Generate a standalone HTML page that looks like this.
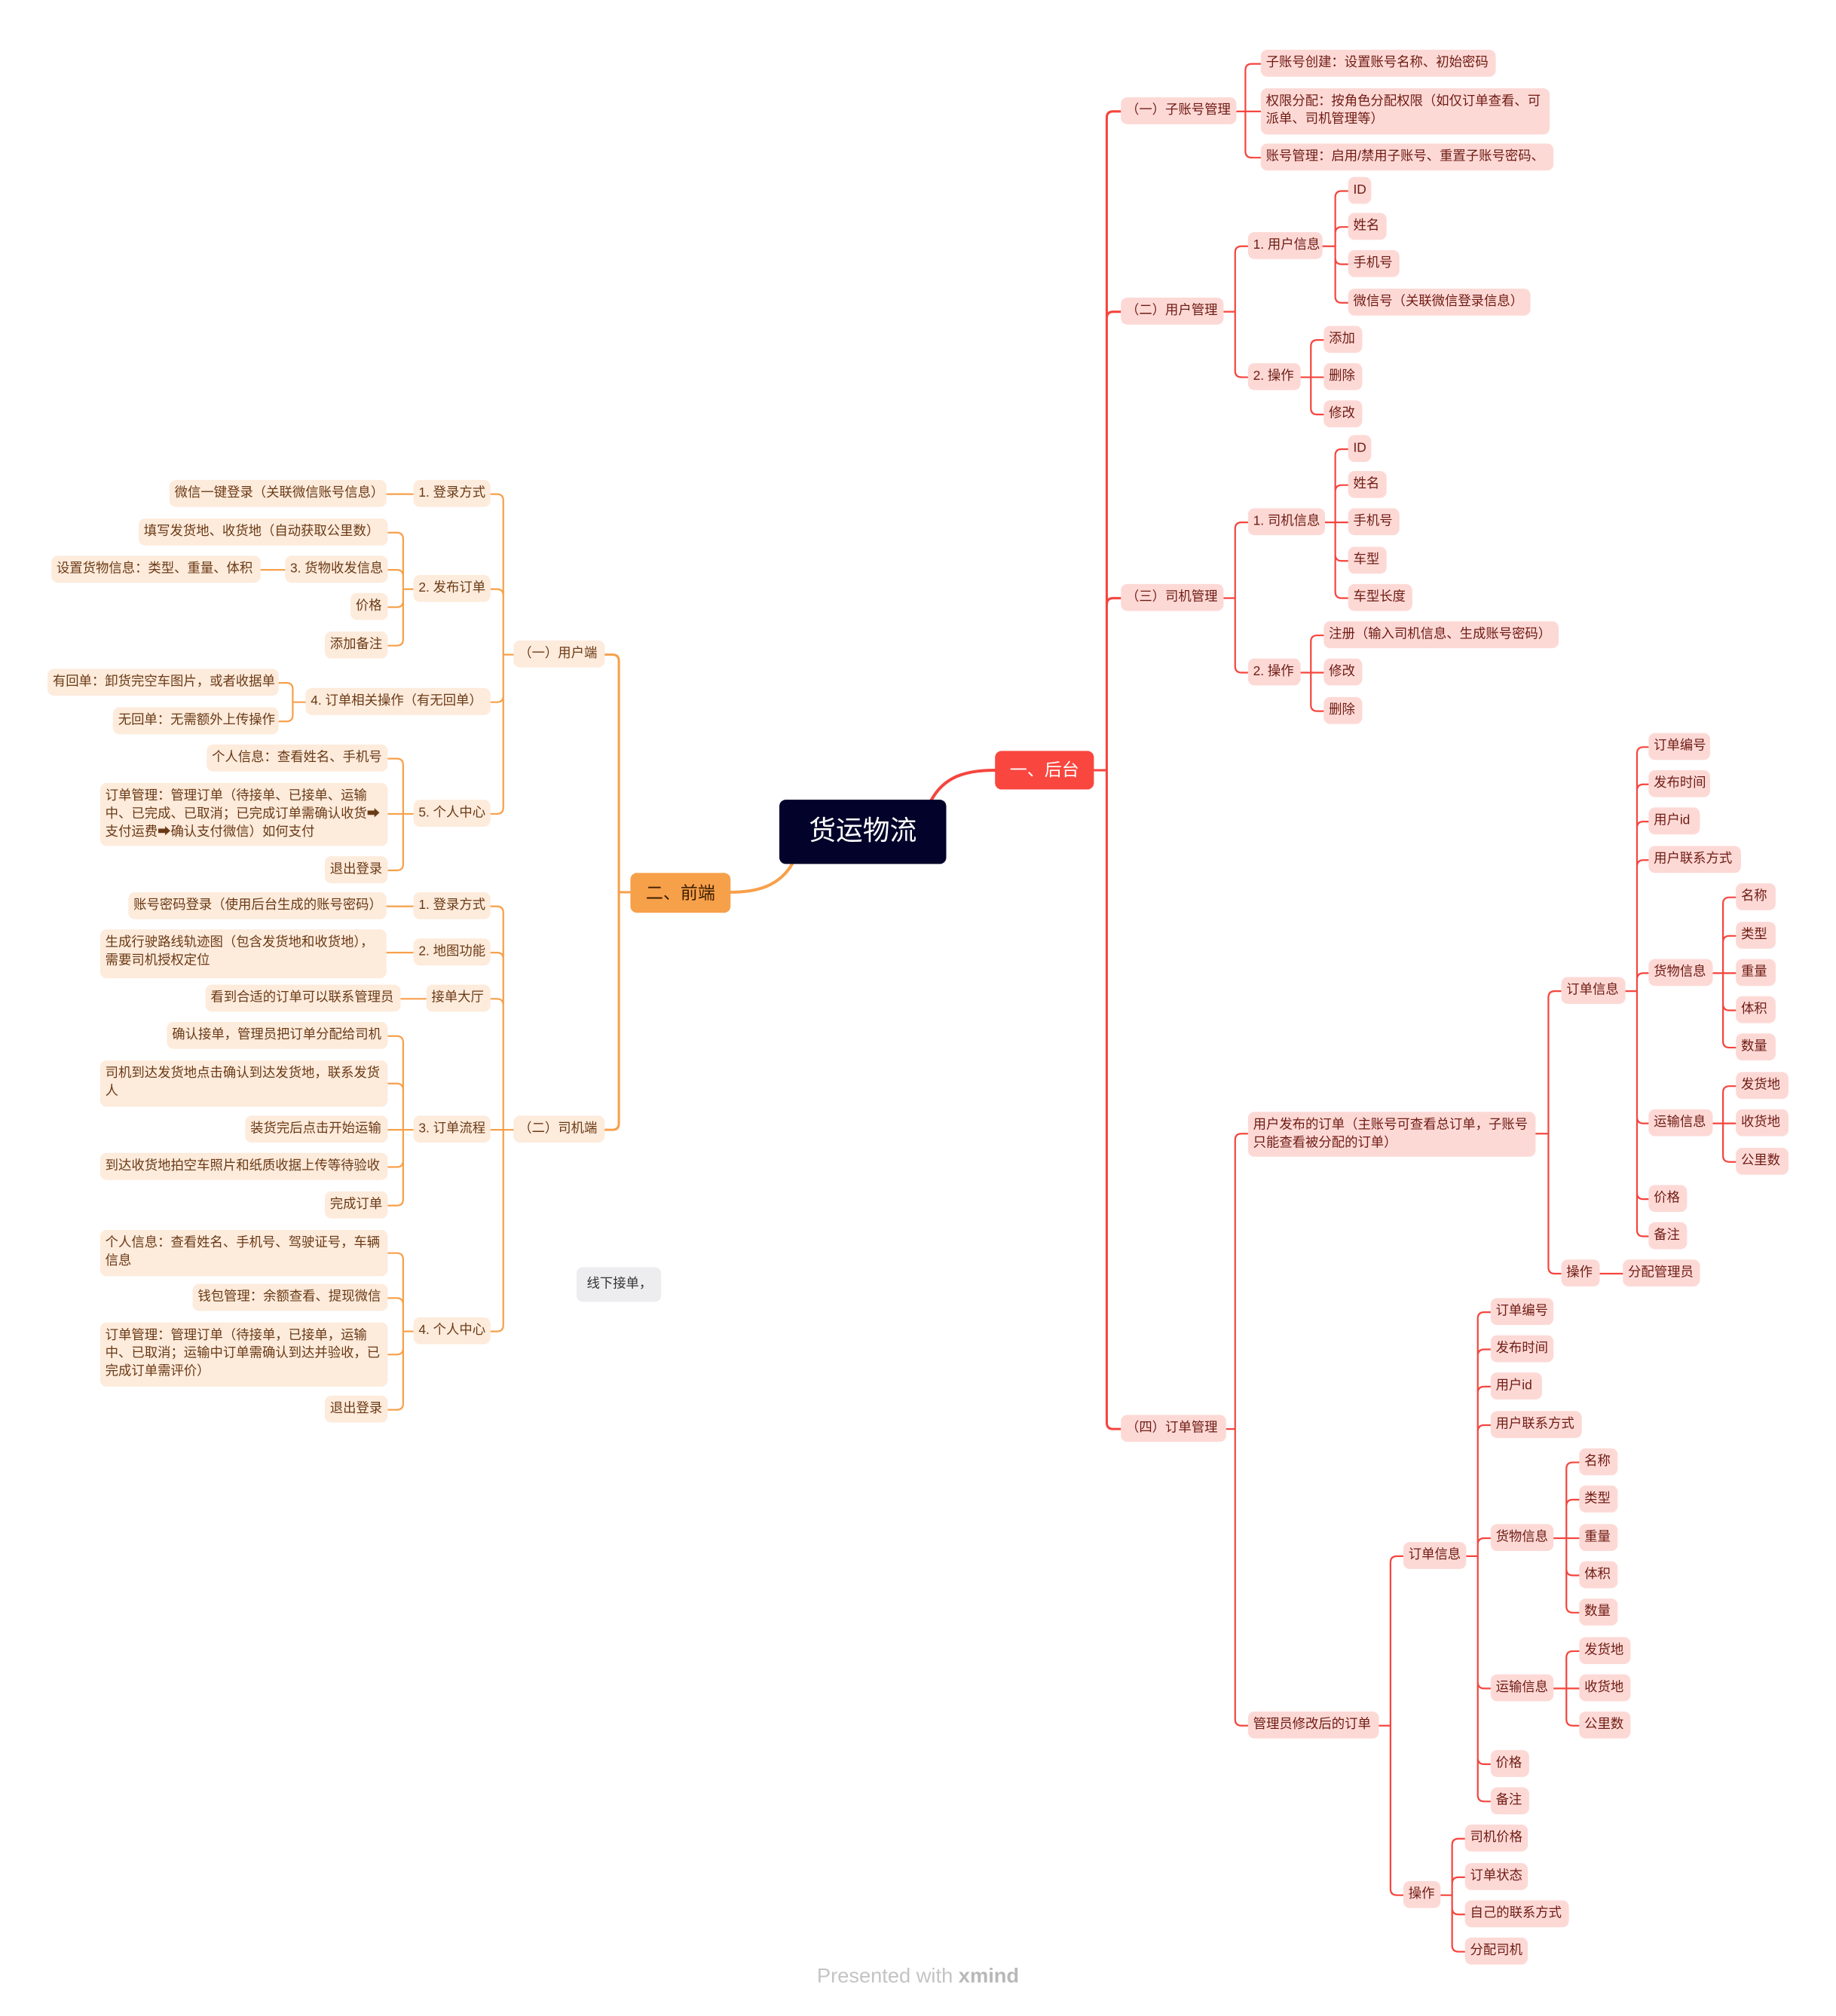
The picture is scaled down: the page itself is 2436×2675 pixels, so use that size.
<!DOCTYPE html>
<html><head><meta charset="utf-8">
<style>
html,body{margin:0;padding:0;background:#fff;}
body{width:2436px;height:2672px;overflow:hidden;position:relative;}
#c{position:absolute;left:0;top:3px;width:1430px;height:1568px;transform:scale(1.7035,1.704);transform-origin:0 0;font-family:"Liberation Sans","Noto Sans CJK SC",sans-serif;}
svg{position:absolute;left:0;top:0;}
.n{position:absolute;height:21px;line-height:21px;font-size:10.2px;padding:0 4px;box-sizing:border-box;border-radius:5px;white-space:nowrap;}
.r{background:#fdd9d6;color:#6e1b13;}
.l{background:#fdebdc;color:#6a3a15;}
.m{height:auto;line-height:14px;padding:4px 4px;white-space:nowrap;}
</style></head><body>
<div id="c">
<svg width="1430" height="1568" viewBox="0 0 1430 1568" fill="none" stroke-linecap="round">
<path d="M725 622 C735 603 752 598 775 598" stroke="#f5453e" stroke-width="2.4"/>
<path d="M617 671 C607 688 590 693 569 693" stroke="#f7a04a" stroke-width="2.4"/>
<g stroke="#f5453e" stroke-width="1.8">
<path d="M852 598H862 M862 598V90Q862 85 867 85H873 M862 598V246Q862 241 867 241H873 M862 598V469Q862 464 867 464H873 M862 598V1106Q862 1111 867 1111H873"/>
</g>
<g stroke="#f5453e" stroke-width="1.3">
<path d="M963 85H970 M970 85V53Q970 48 975 48H982 M970 85H982 M970 85V116Q970 121 975 121H982"/>
<path d="M953 241H962 M962 241V195Q962 190 967 190H972 M962 241V287Q962 292 967 292H972"/>
<path d="M1030 190H1040 M1040 190V152Q1040 147 1045 147H1050 M1040 190V180Q1040 175 1045 175H1050 M1040 190V199Q1040 204 1045 204H1050 M1040 190V229Q1040 234 1045 234H1050"/>
<path d="M1013 292H1021 M1021 292V268Q1021 263 1026 263H1031 M1021 292H1031 M1021 292V316Q1021 321 1026 321H1031"/>
<path d="M953 464H962 M962 464V410Q962 405 967 405H972 M962 464V517Q962 522 967 522H972"/>
<path d="M1032 405H1040 M1040 405V353Q1040 348 1045 348H1050 M1040 405V381Q1040 376 1045 376H1050 M1040 405H1050 M1040 405V430Q1040 435 1045 435H1050 M1040 405V459Q1040 464 1045 464H1050"/>
<path d="M1013 522H1021 M1021 522V498Q1021 493 1026 493H1031 M1021 522H1031 M1021 522V547Q1021 552 1026 552H1031"/>
<path d="M955 1111H962 M962 1111V886Q962 881 967 881H972 M962 1111V1337Q962 1342 967 1342H972"/>
<path d="M1196 881H1206 M1206 881V775Q1206 770 1211 770H1216 M1206 881V985Q1206 990 1211 990H1216"/>
<path d="M1266 770H1275 M1275 770V585Q1275 580 1280 580H1284 M1275 770V614Q1275 609 1280 609H1284 M1275 770V643Q1275 638 1280 638H1284 M1275 770V673Q1275 668 1280 668H1284 M1275 770V761Q1275 756 1280 756H1284 M1275 770V868Q1275 873 1280 873H1284 M1275 770V927Q1275 932 1280 932H1284 M1275 770V956Q1275 961 1280 961H1284"/>
<path d="M1334 756H1342 M1342 756V702Q1342 697 1347 697H1352 M1342 756V732Q1342 727 1347 727H1352 M1342 756H1352 M1342 756V780Q1342 785 1347 785H1352 M1342 756V809Q1342 814 1347 814H1352"/>
<path d="M1334 873H1342 M1342 873V849Q1342 844 1347 844H1352 M1342 873H1352 M1342 873V898Q1342 903 1347 903H1352"/>
<path d="M1246 990H1264"/>
<path d="M1074 1342H1083 M1083 1342V1215Q1083 1210 1088 1210H1093 M1083 1342V1469Q1083 1474 1088 1474H1093"/>
<path d="M1142 1210H1151 M1151 1210V1025Q1151 1020 1156 1020H1161 M1151 1210V1054Q1151 1049 1156 1049H1161 M1151 1210V1083Q1151 1078 1156 1078H1161 M1151 1210V1113Q1151 1108 1156 1108H1161 M1151 1210V1201Q1151 1196 1156 1196H1161 M1151 1210V1308Q1151 1313 1156 1313H1161 M1151 1210V1367Q1151 1372 1156 1372H1161 M1151 1210V1396Q1151 1401 1156 1401H1161"/>
<path d="M1210 1196H1220 M1220 1196V1142Q1220 1137 1225 1137H1230 M1220 1196V1171Q1220 1166 1225 1166H1230 M1220 1196H1230 M1220 1196V1220Q1220 1225 1225 1225H1230 M1220 1196V1249Q1220 1254 1225 1254H1230"/>
<path d="M1210 1313H1220 M1220 1313V1289Q1220 1284 1225 1284H1230 M1220 1313H1230 M1220 1313V1337Q1220 1342 1225 1342H1230"/>
<path d="M1122 1474H1131 M1131 1474V1435Q1131 1430 1136 1430H1141 M1131 1474V1465Q1131 1460 1136 1460H1141 M1131 1474V1484Q1131 1489 1136 1489H1141 M1131 1474V1513Q1131 1518 1136 1518H1141"/>
</g>
<g stroke="#f7a04a" stroke-width="1.8">
<path d="M491 693H482 M482 693V513Q482 508 477 508H471 M482 693V873Q482 878 477 878H471"/>
</g>
<g stroke="#f7a04a" stroke-width="1.3">
<path d="M400 508H392 M392 508V388Q392 383 387 383H382 M392 508V462Q392 457 387 457H382 M392 508V540Q392 545 387 545H382 M392 508V627Q392 632 387 632H382"/>
<path d="M322 383H301 M222 442H203"/>
<path d="M322 457H314 M314 457V418Q314 413 309 413H302 M314 457V447Q314 442 309 442H302 M314 457V466Q314 471 309 471H302 M314 457V496Q314 501 309 501H302"/>
<path d="M238 545H228 M228 545V535Q228 530 223 530H217 M228 545V555Q228 560 223 560H217"/>
<path d="M322 632H314 M314 632V594Q314 589 309 589H302 M314 632H302 M314 632V671Q314 676 309 676H302"/>
<path d="M400 878H392 M392 878V709Q392 704 387 704H382 M392 878V745Q392 740 387 740H382 M392 878V781Q392 776 387 776H382 M392 878H382 M392 878V1030Q392 1035 387 1035H382"/>
<path d="M322 704H301 M322 740H301 M332 776H312"/>
<path d="M322 878H314 M314 878V810Q314 805 309 805H302 M314 878V847Q314 842 309 842H302 M314 878H302 M314 878V902Q314 907 309 907H302 M314 878V932Q314 937 309 937H302"/>
<path d="M322 1035H314 M314 1035V979Q314 974 309 974H302 M314 1035V1014Q314 1009 309 1009H302 M314 1035V1048Q314 1053 309 1053H302 M314 1035V1091Q314 1096 309 1096H302"/>
</g>
</svg>

<div style="position:absolute;left:607px;top:621px;width:130px;height:50px;background:#02022a;border-radius:5px;color:#fff;font-size:21px;line-height:50px;text-align:center;">货运物流</div>
<div style="position:absolute;left:775px;top:583px;width:77px;height:30px;background:#f9463f;border-radius:5px;color:#fff;font-size:13.5px;line-height:30px;text-align:center;">一、后台</div>
<div style="position:absolute;left:491px;top:678px;width:78px;height:31px;background:#f7a04a;border-radius:5px;color:#3d1e00;font-size:13.5px;line-height:31px;text-align:center;">二、前端</div>

<div class="n r" style="left:873px;top:74px;width:90px">（一）子账号管理</div>
<div class="n r" style="left:873px;top:230px;width:80px">（二）用户管理</div>
<div class="n r" style="left:873px;top:453px;width:80px">（三）司机管理</div>
<div class="n r" style="left:873px;top:1100px;width:82px">（四）订单管理</div>

<div class="n r" style="left:982px;top:37px;width:183px">子账号创建：设置账号名称、初始密码</div>
<div class="n r m" style="left:982px;top:67px;width:225px;height:36px">权限分配：按角色分配权限（如仅订单查看、可<br>派单、司机管理等）</div>
<div class="n r" style="left:982px;top:110px;width:228px">账号管理：启用/禁用子账号、重置子账号密码、</div>

<div class="n r" style="left:972px;top:179px;width:58px">1. 用户信息</div>
<div class="n r" style="left:1050px;top:136px;width:18px">ID</div>
<div class="n r" style="left:1050px;top:164px;width:30px">姓名</div>
<div class="n r" style="left:1050px;top:193px;width:40px">手机号</div>
<div class="n r" style="left:1050px;top:223px;width:142px">微信号（关联微信登录信息）</div>
<div class="n r" style="left:972px;top:281px;width:41px">2. 操作</div>
<div class="n r" style="left:1031px;top:252px;width:30px">添加</div>
<div class="n r" style="left:1031px;top:281px;width:30px">删除</div>
<div class="n r" style="left:1031px;top:310px;width:30px">修改</div>

<div class="n r" style="left:972px;top:394px;width:60px">1. 司机信息</div>
<div class="n r" style="left:1050px;top:337px;width:18px">ID</div>
<div class="n r" style="left:1050px;top:365px;width:30px">姓名</div>
<div class="n r" style="left:1050px;top:394px;width:40px">手机号</div>
<div class="n r" style="left:1050px;top:424px;width:30px">车型</div>
<div class="n r" style="left:1050px;top:453px;width:50px">车型长度</div>
<div class="n r" style="left:972px;top:511px;width:41px">2. 操作</div>
<div class="n r" style="left:1031px;top:482px;width:183px">注册（输入司机信息、生成账号密码）</div>
<div class="n r" style="left:1031px;top:511px;width:30px">修改</div>
<div class="n r" style="left:1031px;top:541px;width:30px">删除</div>

<div class="n r m" style="left:972px;top:864px;width:224px;height:35px">用户发布的订单（主账号可查看总订单，子账号<br>只能查看被分配的订单）</div>
<div class="n r" style="left:1216px;top:759px;width:50px">订单信息</div>
<div class="n r" style="left:1284px;top:569px;width:48px">订单编号</div>
<div class="n r" style="left:1284px;top:598px;width:48px">发布时间</div>
<div class="n r" style="left:1284px;top:627px;width:40px">用户id</div>
<div class="n r" style="left:1284px;top:657px;width:72px">用户联系方式</div>
<div class="n r" style="left:1284px;top:745px;width:50px">货物信息</div>
<div class="n r" style="left:1284px;top:862px;width:50px">运输信息</div>
<div class="n r" style="left:1284px;top:921px;width:30px">价格</div>
<div class="n r" style="left:1284px;top:950px;width:30px">备注</div>
<div class="n r" style="left:1352px;top:686px;width:31px">名称</div>
<div class="n r" style="left:1352px;top:716px;width:31px">类型</div>
<div class="n r" style="left:1352px;top:745px;width:31px">重量</div>
<div class="n r" style="left:1352px;top:774px;width:31px">体积</div>
<div class="n r" style="left:1352px;top:803px;width:31px">数量</div>
<div class="n r" style="left:1352px;top:833px;width:41px">发货地</div>
<div class="n r" style="left:1352px;top:862px;width:41px">收货地</div>
<div class="n r" style="left:1352px;top:892px;width:41px">公里数</div>
<div class="n r" style="left:1216px;top:979px;width:30px">操作</div>
<div class="n r" style="left:1264px;top:979px;width:60px">分配管理员</div>

<div class="n r" style="left:972px;top:1331px;width:102px">管理员修改后的订单</div>
<div class="n r" style="left:1093px;top:1199px;width:49px">订单信息</div>
<div class="n r" style="left:1161px;top:1009px;width:49px">订单编号</div>
<div class="n r" style="left:1161px;top:1038px;width:49px">发布时间</div>
<div class="n r" style="left:1161px;top:1067px;width:40px">用户id</div>
<div class="n r" style="left:1161px;top:1097px;width:71px">用户联系方式</div>
<div class="n r" style="left:1161px;top:1185px;width:49px">货物信息</div>
<div class="n r" style="left:1161px;top:1302px;width:49px">运输信息</div>
<div class="n r" style="left:1161px;top:1361px;width:30px">价格</div>
<div class="n r" style="left:1161px;top:1390px;width:30px">备注</div>
<div class="n r" style="left:1230px;top:1126px;width:30px">名称</div>
<div class="n r" style="left:1230px;top:1155px;width:30px">类型</div>
<div class="n r" style="left:1230px;top:1185px;width:30px">重量</div>
<div class="n r" style="left:1230px;top:1214px;width:30px">体积</div>
<div class="n r" style="left:1230px;top:1243px;width:30px">数量</div>
<div class="n r" style="left:1230px;top:1273px;width:40px">发货地</div>
<div class="n r" style="left:1230px;top:1302px;width:40px">收货地</div>
<div class="n r" style="left:1230px;top:1331px;width:40px">公里数</div>
<div class="n r" style="left:1093px;top:1463px;width:29px">操作</div>
<div class="n r" style="left:1141px;top:1419px;width:49px">司机价格</div>
<div class="n r" style="left:1141px;top:1449px;width:49px">订单状态</div>
<div class="n r" style="left:1141px;top:1478px;width:81px">自己的联系方式</div>
<div class="n r" style="left:1141px;top:1507px;width:49px">分配司机</div>

<div class="n l" style="left:400px;top:497px;width:71px">（一）用户端</div>
<div class="n l" style="left:400px;top:867px;width:71px">（二）司机端</div>

<div class="n l" style="left:322px;top:372px;width:60px">1. 登录方式</div>
<div class="n l" style="left:132px;top:372px;width:169px">微信一键登录（关联微信账号信息）</div>
<div class="n l" style="left:322px;top:446px;width:60px">2. 发布订单</div>
<div class="n l" style="left:108px;top:402px;width:194px">填写发货地、收货地（自动获取公里数）</div>
<div class="n l" style="left:222px;top:431px;width:80px">3. 货物收发信息</div>
<div class="n l" style="left:40px;top:431px;width:163px">设置货物信息：类型、重量、体积</div>
<div class="n l" style="left:273px;top:460px;width:29px">价格</div>
<div class="n l" style="left:253px;top:490px;width:49px">添加备注</div>
<div class="n l" style="left:238px;top:534px;width:144px">4. 订单相关操作（有无回单）</div>
<div class="n l" style="left:37px;top:519px;width:180px">有回单：卸货完空车图片，或者收据单</div>
<div class="n l" style="left:88px;top:549px;width:129px">无回单：无需额外上传操作</div>
<div class="n l" style="left:322px;top:621px;width:60px">5. 个人中心</div>
<div class="n l" style="left:161px;top:578px;width:141px">个人信息：查看姓名、手机号</div>
<div class="n l m" style="left:78px;top:608px;width:224px;height:49px">订单管理：管理订单（待接单、已接单、运输<br>中、已完成、已取消；已完成订单需确认收货➡<br>支付运费➡确认支付微信）如何支付</div>
<div class="n l" style="left:253px;top:665px;width:49px">退出登录</div>

<div class="n l" style="left:322px;top:693px;width:60px">1. 登录方式</div>
<div class="n l" style="left:100px;top:693px;width:201px">账号密码登录（使用后台生成的账号密码）</div>
<div class="n l" style="left:322px;top:729px;width:60px">2. 地图功能</div>
<div class="n l m" style="left:78px;top:722px;width:223px;height:38px">生成行驶路线轨迹图（包含发货地和收货地），<br>需要司机授权定位</div>
<div class="n l" style="left:332px;top:765px;width:50px">接单大厅</div>
<div class="n l" style="left:160px;top:765px;width:152px">看到合适的订单可以联系管理员</div>
<div class="n l" style="left:322px;top:867px;width:60px">3. 订单流程</div>
<div class="n l" style="left:130px;top:794px;width:172px">确认接单，管理员把订单分配给司机</div>
<div class="n l m" style="left:78px;top:824px;width:224px;height:36px">司机到达发货地点击确认到达发货地，联系发货<br>人</div>
<div class="n l" style="left:191px;top:867px;width:111px">装货完后点击开始运输</div>
<div class="n l" style="left:78px;top:896px;width:224px">到达收货地拍空车照片和纸质收据上传等待验收</div>
<div class="n l" style="left:253px;top:926px;width:49px">完成订单</div>
<div class="n l" style="left:322px;top:1024px;width:60px">4. 个人中心</div>
<div class="n l m" style="left:78px;top:956px;width:224px;height:36px">个人信息：查看姓名、手机号、驾驶证号，车辆<br>信息</div>
<div class="n l" style="left:150px;top:998px;width:152px">钱包管理：余额查看、提现微信</div>
<div class="n l m" style="left:78px;top:1028px;width:224px;height:50px">订单管理：管理订单（待接单，已接单，运输<br>中、已取消；运输中订单需确认到达并验收，已<br>完成订单需评价）</div>
<div class="n l" style="left:253px;top:1085px;width:49px">退出登录</div>

<div class="n" style="left:449px;top:985px;width:66px;height:27px;line-height:27px;background:#ededf0;color:#333;padding:0 8px">线下接单，</div>

<div style="position:absolute;left:560px;top:1529px;width:310px;text-align:center;font-size:16px;color:#c4c4c4;">Presented with <b style="color:#b8b8b8">xmind</b></div>
</div>
</body></html>
